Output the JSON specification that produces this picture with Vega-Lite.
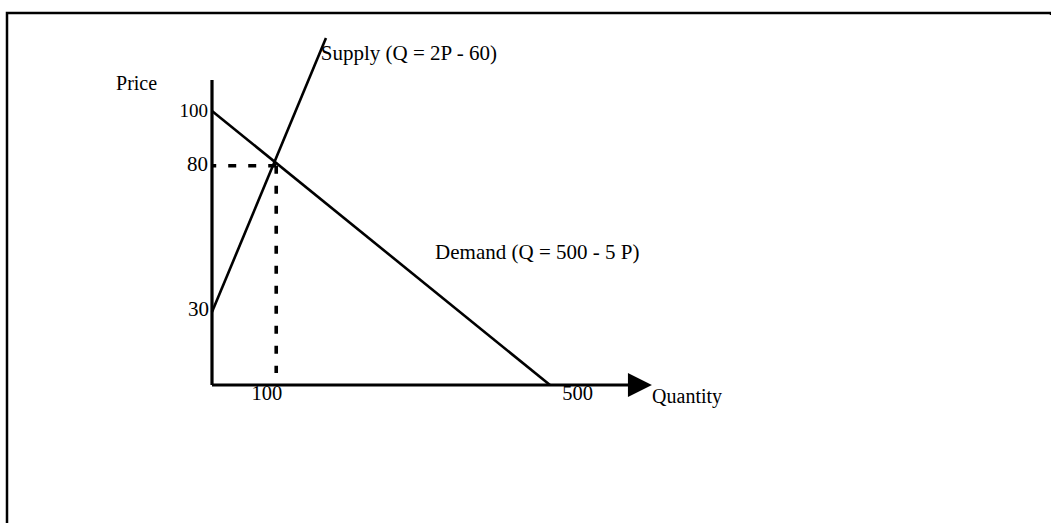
{
  "$schema": "https://vega.github.io/schema/vega-lite/v6.json",
  "width": 1044,
  "height": 510,
  "autosize": {"type": "none"},
  "padding": {"left": 7, "top": 13, "right": 0, "bottom": 0},
  "background": "white",
  "config": {
    "view": {"stroke": "black", "strokeWidth": 2.5, "strokeDash": [1046, 1552, 512, 0]},
    "text": {"font": "Liberation Serif", "fontSize": 19, "color": "black"}
  },
  "datasets": {
    "segments": [
      {"kind": "yaxis", "Q": 0, "P": 0, "Q2": 0, "P2": 111.3},
      {"kind": "xaxis", "Q": 0, "P": 0, "Q2": 618, "P2": 0},
      {"kind": "demand", "Q": 0, "P": 100, "Q2": 500, "P2": 0},
      {"kind": "supply", "Q": 0, "P": 26.6, "Q2": 168.6, "P2": 126.6},
      {"kind": "guide", "Q": 95, "P": 80, "Q2": 0, "P2": 80},
      {"kind": "guide", "Q": 95, "P": 80, "Q2": 95, "P2": 4.4}
    ],
    "arrow": [{"Q": 633, "P": 0}],
    "labels": [
      {"role": "axis title", "text": "Price", "Q": -142, "P": 109.9},
      {"role": "curve label", "text": "Supply (Q = 2P - 60)", "Q": 161, "P": 120.8},
      {"role": "curve label", "text": "Demand (Q = 500 - 5 P)", "Q": 330, "P": 48.2},
      {"role": "axis title", "text": "Quantity", "Q": 651, "P": -4.4},
      {"role": "ytick", "text": "100", "Q": -6, "P": 100},
      {"role": "ytick", "text": "80", "Q": -6, "P": 80.3},
      {"role": "ytick", "text": "30", "Q": -4.4, "P": 27.4},
      {"role": "xtick", "text": "100", "Q": 81, "P": -3.3},
      {"role": "xtick", "text": "500", "Q": 541, "P": -3.3}
    ]
  },
  "encoding": {
    "x": {"field": "Q", "type": "quantitative", "scale": {"domain": [0, 500], "range": [205, 543], "nice": false, "zero": false}, "axis": null},
    "y": {"field": "P", "type": "quantitative", "scale": {"domain": [0, 100], "range": [372, 98], "nice": false, "zero": false}, "axis": null}
  },
  "layer": [
    {
      "data": {"name": "segments"},
      "transform": [{"filter": "datum.kind === 'yaxis' || datum.kind === 'xaxis'"}],
      "mark": {"type": "rule", "color": "black", "strokeWidth": 3.2},
      "encoding": {"x2": {"field": "Q2"}, "y2": {"field": "P2"}}
    },
    {
      "data": {"name": "segments"},
      "transform": [{"filter": "datum.kind === 'demand' || datum.kind === 'supply'"}],
      "mark": {"type": "rule", "color": "black", "strokeWidth": 2.6},
      "encoding": {"x2": {"field": "Q2"}, "y2": {"field": "P2"}}
    },
    {
      "data": {"name": "segments"},
      "transform": [{"filter": "datum.kind === 'guide'"}],
      "mark": {"type": "rule", "color": "black", "strokeWidth": 3.6, "strokeDash": [8, 12]},
      "encoding": {"x2": {"field": "Q2"}, "y2": {"field": "P2"}}
    },
    {
      "data": {"name": "arrow"},
      "mark": {"type": "point", "shape": "M-1,-1L1,0L-1,1Z", "filled": true, "color": "black", "opacity": 1, "size": 576}
    },
    {
      "data": {"name": "labels"},
      "transform": [{"filter": "datum.role === 'curve label'"}],
      "mark": {"type": "text", "align": "left", "baseline": "middle", "fontSize": 21},
      "encoding": {"text": {"field": "text"}}
    },
    {
      "data": {"name": "labels"},
      "transform": [{"filter": "datum.role === 'axis title'"}],
      "mark": {"type": "text", "align": "left", "baseline": "middle", "fontSize": 20},
      "encoding": {"text": {"field": "text"}}
    },
    {
      "data": {"name": "labels"},
      "transform": [{"filter": "datum.role === 'ytick' && datum.text === '100'"}],
      "mark": {"type": "text", "align": "right", "baseline": "middle", "fontSize": 19},
      "encoding": {"text": {"field": "text"}}
    },
    {
      "data": {"name": "labels"},
      "transform": [{"filter": "datum.role === 'ytick' && datum.text !== '100'"}],
      "mark": {"type": "text", "align": "right", "baseline": "middle", "fontSize": 21},
      "encoding": {"text": {"field": "text"}}
    },
    {
      "data": {"name": "labels"},
      "transform": [{"filter": "datum.role === 'xtick'"}],
      "mark": {"type": "text", "align": "center", "baseline": "middle", "fontSize": 20.5},
      "encoding": {"text": {"field": "text"}}
    }
  ]
}
